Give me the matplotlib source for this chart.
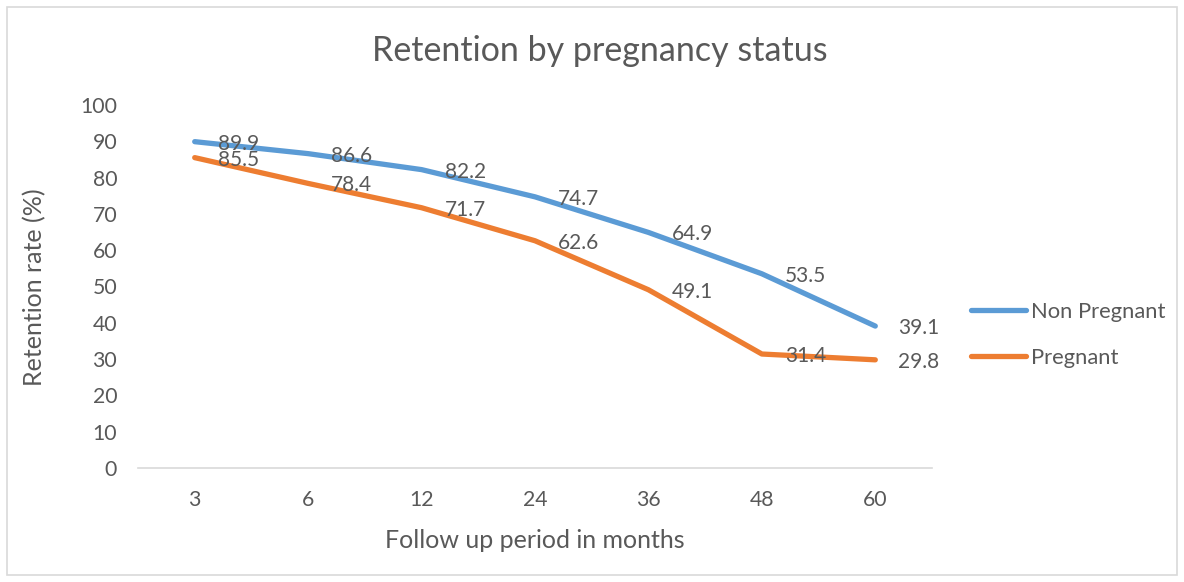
import matplotlib.pyplot as plt
from matplotlib.patches import Rectangle

months = ["3", "6", "12", "24", "36", "48", "60"]
non_pregnant = [89.9, 86.6, 82.2, 74.7, 64.9, 53.5, 39.1]
pregnant = [85.5, 78.4, 71.7, 62.6, 49.1, 31.4, 29.8]

BLUE = "#5B9BD5"
ORANGE = "#ED7D31"
GRAY = "#595959"

plt.rcParams["font.family"] = ["Lato", "DejaVu Sans"]


def main():
    fig = plt.figure(figsize=(11.84, 5.82), dpi=100)
    W, H = 1184, 582
    ax = fig.add_axes([138 / W, 1 - 468 / H, (932 - 138) / W, (468 - 105) / H])

    # рамка вокруг всего графика
    fig.patches.append(Rectangle((7 / W, 7 / H), 1 - 14 / W, 1 - 14 / H,
                                 transform=fig.transFigure, fill=False,
                                 edgecolor="#d9d9d9", lw=1.2))

    xs = list(range(len(months)))
    ax.plot(xs, non_pregnant, color=BLUE, lw=3.8, solid_capstyle="round",
            label="Non Pregnant")
    ax.plot(xs, pregnant, color=ORANGE, lw=3.8, solid_capstyle="round",
            label="Pregnant")

    for series in (non_pregnant, pregnant):
        for x, y in zip(xs, series):
            ax.annotate(f"{y}", (x, y), xytext=(23, -2), textcoords="offset pixels",
                        ha="left", va="center", fontsize=15, color=GRAY)

    ax.set_xlim(-0.5, len(months) - 0.5)
    ax.set_ylim(0, 100)
    ax.set_yticks(range(0, 101, 10))
    ax.set_xticks(xs)
    ax.set_xticklabels(months)
    ax.tick_params(length=0, labelsize=15.3, labelcolor=GRAY)
    ax.tick_params(axis="y", pad=15)
    ax.tick_params(axis="x", pad=16)
    for side in ("top", "right", "left"):
        ax.spines[side].set_visible(False)
    ax.spines["bottom"].set_color("#d9d9d9")
    ax.spines["bottom"].set_linewidth(1.2)

    fig.text(600 / W, 1 - 51 / H, "Retention by pregnancy status",
             ha="center", va="center", fontsize=24.5, color=GRAY)
    fig.text(35 / W, 1 - 287 / H, "Retention rate (%)", rotation=90,
             ha="center", va="center", fontsize=18, color=GRAY)
    fig.text(535 / W, 1 - 540 / H, "Follow up period in months",
             ha="center", va="center", fontsize=18, color=GRAY)

    leg = ax.legend(loc="upper left", bbox_to_anchor=(951 / W, 1 - 282 / H),
                    bbox_transform=fig.transFigure, frameon=False,
                    fontsize=15.8, handlelength=2.5, handletextpad=0.23,
                    labelspacing=1.2)
    for t in leg.get_texts():
        t.set_color(GRAY)

    fig.savefig("out.png", dpi=100)


if __name__ == "__main__":
    main()
